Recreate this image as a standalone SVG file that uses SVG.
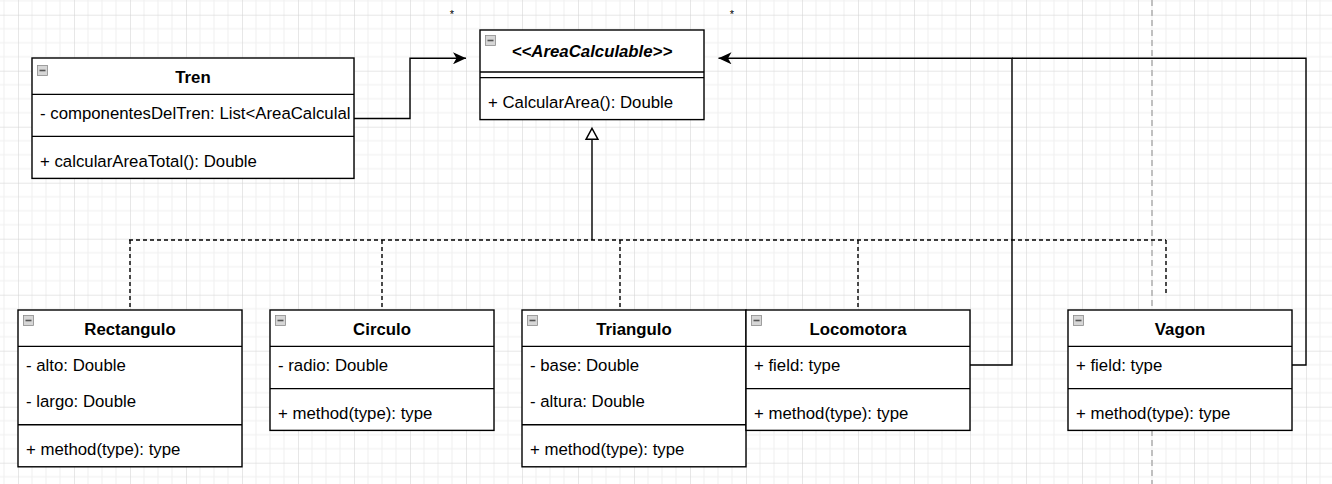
<svg xmlns="http://www.w3.org/2000/svg" width="1332" height="484" viewBox="0 0 1332 484">
<style>
  .box{fill:#ffffff;stroke:#000000;stroke-width:1.4}
  .sep{stroke:#000000;stroke-width:1.4;fill:none}
  .t{font-family:"Liberation Sans",Arial,Helvetica,sans-serif;font-size:16.8px;fill:#000000}
  .h{font-weight:bold;text-anchor:middle}
  .hi{font-weight:bold;font-style:italic;text-anchor:middle}
  .edge{fill:none;stroke:#000000;stroke-width:1.4}
  .dash{fill:none;stroke:#000000;stroke-width:1.4;stroke-dasharray:4 3}
  .ico{fill:#d6d6d6;stroke:#8c8c8c;stroke-width:0.8}
  .icol{stroke:#555555;stroke-width:1.6}
  .star{font-family:"Liberation Sans",Arial,sans-serif;font-size:11px;fill:#000000;text-anchor:middle}
</style>
<defs>
  <pattern id="grid" patternUnits="userSpaceOnUse" x="18" y="14.7" width="56" height="56">
    <path d="M14 0V56M28 0V56M42 0V56M0 14H56M0 28H56M0 42H56" stroke="#efefef" stroke-width="1"/>
    <path d="M0 0V56M0 0H56" stroke="#d0d0d0" stroke-width="1"/>
  </pattern>
  <marker id="arr" markerWidth="14" markerHeight="12" refX="13" refY="6" orient="auto" markerUnits="userSpaceOnUse">
    <path d="M0,0 L13,6 L0,12 L3.5,6 Z" fill="#000000"/>
  </marker>
</defs>
<rect x="0" y="0" width="1332" height="484" fill="#ffffff"/>
<rect x="0" y="0" width="1332" height="484" fill="url(#grid)"/>
<line x1="1152" y1="0" x2="1152" y2="484" stroke="#c0c0c0" stroke-width="2" stroke-dasharray="6 4"/>

<text class="star" x="452" y="18">*</text>
<text class="star" x="732" y="18">*</text>

<g id="connectors">
  <path class="edge" d="M354,118.5 H410 V58.3 H466" marker-end="url(#arr)"/>
  <path class="edge" d="M970,365 H1012 V58.3 H718.5" marker-end="url(#arr)"/>
  <path class="edge" d="M1292,365 H1306 V58.3 H1012"/>
  <path class="dash" d="M129,240 H1166"/>
  <path class="dash" d="M130,240 V310"/>
  <path class="dash" d="M382,240 V310"/>
  <path class="dash" d="M620,240 V310"/>
  <path class="dash" d="M858,240 V310"/>
  <path class="dash" d="M1166,240 V295"/>
  <path class="edge" d="M592,139.3 V240"/>
  <path d="M592,128.3 L598,139.3 L586,139.3 Z" fill="#ffffff" stroke="#000000" stroke-width="1.4"/>
</g>

<g id="node-tren">
  <rect class="box" x="32" y="58" width="322" height="120.4"/>
  <line class="sep" x1="32" y1="94.4" x2="354" y2="94.4"/>
  <line class="sep" x1="32" y1="136.4" x2="354" y2="136.4"/>
  <rect class="ico" x="37.5" y="65.5" width="10" height="10"/>
  <line class="icol" x1="39.5" y1="70.5" x2="45.5" y2="70.5"/>
  <text class="t h" x="193" y="82.5">Tren</text>
  <text class="t" x="40" y="118.8">- componentesDelTren: List&lt;AreaCalculal</text>
  <text class="t" x="40" y="166.5">+ calcularAreaTotal(): Double</text>
</g>

<g id="node-areacalculable">
  <rect class="box" x="480" y="30" width="224" height="89.6"/>
  <line class="sep" x1="480" y1="72" x2="704" y2="72"/>
  <line class="sep" x1="480" y1="77.6" x2="704" y2="77.6"/>
  <rect class="ico" x="485.5" y="35.5" width="10" height="10"/>
  <line class="icol" x1="487.5" y1="40.5" x2="493.5" y2="40.5"/>
  <text class="t hi" x="592" y="56.5">&lt;&lt;AreaCalculable&gt;&gt;</text>
  <text class="t" x="488" y="107.5">+ CalcularArea(): Double</text>
</g>

<g id="node-rectangulo">
  <rect class="box" x="18" y="310" width="224" height="156.8"/>
  <line class="sep" x1="18" y1="346.4" x2="242" y2="346.4"/>
  <line class="sep" x1="18" y1="424.8" x2="242" y2="424.8"/>
  <rect class="ico" x="23.5" y="315.5" width="10" height="10"/>
  <line class="icol" x1="25.5" y1="320.5" x2="31.5" y2="320.5"/>
  <text class="t h" x="130" y="334.5">Rectangulo</text>
  <text class="t" x="26" y="370.8">- alto: Double</text>
  <text class="t" x="26" y="407.2">- largo: Double</text>
  <text class="t" x="26" y="454.8">+ method(type): type</text>
</g>

<g id="node-circulo">
  <rect class="box" x="270" y="310" width="224" height="120.4"/>
  <line class="sep" x1="270" y1="346.4" x2="494" y2="346.4"/>
  <line class="sep" x1="270" y1="388.6" x2="494" y2="388.6"/>
  <rect class="ico" x="275.5" y="315.5" width="10" height="10"/>
  <line class="icol" x1="277.5" y1="320.5" x2="283.5" y2="320.5"/>
  <text class="t h" x="382" y="334.5">Circulo</text>
  <text class="t" x="278" y="370.8">- radio: Double</text>
  <text class="t" x="278" y="418.6">+ method(type): type</text>
</g>

<g id="node-triangulo">
  <rect class="box" x="522" y="310" width="224" height="156.8"/>
  <line class="sep" x1="522" y1="346.4" x2="746" y2="346.4"/>
  <line class="sep" x1="522" y1="424.8" x2="746" y2="424.8"/>
  <rect class="ico" x="527.5" y="315.5" width="10" height="10"/>
  <line class="icol" x1="529.5" y1="320.5" x2="535.5" y2="320.5"/>
  <text class="t h" x="634" y="334.5">Triangulo</text>
  <text class="t" x="530" y="370.8">- base: Double</text>
  <text class="t" x="530" y="407.2">- altura: Double</text>
  <text class="t" x="530" y="454.8">+ method(type): type</text>
</g>

<g id="node-locomotora">
  <rect class="box" x="746" y="310" width="224" height="120.4"/>
  <line class="sep" x1="746" y1="346.4" x2="970" y2="346.4"/>
  <line class="sep" x1="746" y1="388.6" x2="970" y2="388.6"/>
  <rect class="ico" x="751.5" y="315.5" width="10" height="10"/>
  <line class="icol" x1="753.5" y1="320.5" x2="759.5" y2="320.5"/>
  <text class="t h" x="858" y="334.5">Locomotora</text>
  <text class="t" x="754" y="370.8">+ field: type</text>
  <text class="t" x="754" y="418.6">+ method(type): type</text>
</g>

<g id="node-vagon">
  <rect class="box" x="1068" y="310" width="224" height="120.4"/>
  <line class="sep" x1="1068" y1="346.4" x2="1292" y2="346.4"/>
  <line class="sep" x1="1068" y1="388.6" x2="1292" y2="388.6"/>
  <rect class="ico" x="1073.5" y="315.5" width="10" height="10"/>
  <line class="icol" x1="1075.5" y1="320.5" x2="1081.5" y2="320.5"/>
  <text class="t h" x="1180" y="334.5">Vagon</text>
  <text class="t" x="1076" y="370.8">+ field: type</text>
  <text class="t" x="1076" y="418.6">+ method(type): type</text>
</g>
</svg>
